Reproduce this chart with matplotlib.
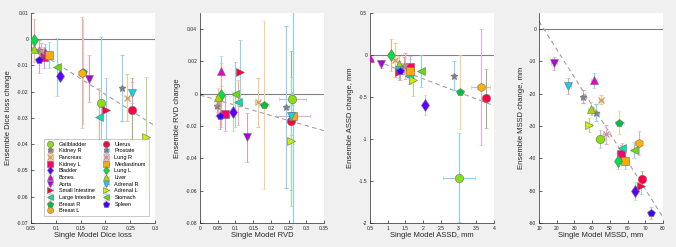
#Ensemble vs single model: change in metrics per organ

import matplotlib.pyplot as plt
import matplotlib.ticker as mticker

plt.rcParams['font.family'] = ['Liberation Sans', 'DejaVu Sans']
plt.rcParams['axes.unicode_minus'] = False

#organs, markers and colours
organs = ['Gallbladder', 'Kidney R', 'Pancreas', 'Kidney L', 'Bladder', 'Bones', 'Aorta',
          'Small Intestine', 'Large Intestine', 'Breast R', 'Breast L', 'Uterus', 'Prostate',
          'Lung R', 'Mediastinum', 'Lung L', 'Liver', 'Adrenal R', 'Adrenal L', 'Stomach', 'Spleen']
markers = ['o', '*', 'x', 's', 'd', '^', 'v', '>', '<', 'p', 'h',
           'o', '*', 'x', 's', 'd', '^', 'v', '>', '<', 'p']
face_colors = ['#88e010', '#808080', '#c8a070', '#ff0066', '#5a00ff', '#e600d0', '#b000e0',
               '#ff0040', '#00e0b0', '#00c040', '#ffb000', '#ff0040', '#808080',
               '#c89090', '#ffaa00', '#00e040', '#a0e000', '#00d8f0', '#c8f000', '#60e000', '#4000ff']
err_colors = ['#90cef0', '#d0a8a8', '#f5c890', '#d0a0d8', '#b8e0a0', '#90d0f0', '#d8a0b0',
              '#90d0f0', '#f0b090', '#f8d090', '#d8b0e0', '#a0b080', '#90d0f0',
              '#e8b0c0', '#90d0f0', '#f0b090', '#f0c0a0', '#d0a0d0', '#b0d890', '#90d0f0', '#e0a0b0']

#panel 1: Dice loss
dice_x = [0.191, 0.067, 0.244, 0.077, 0.108, 0.0786, 0.167, 0.202, 0.188, 0.154, 0.153,
          0.253, 0.2326, 0.070, 0.086, 0.0555, 0.0555, 0.253, 0.2816, 0.1025, 0.0657]
dice_y = [-0.0242, -0.0042, -0.0223, -0.0068, -0.0141, -0.0048, -0.0150, -0.0269, -0.0297, -0.0124, -0.0127,
          -0.0268, -0.0185, -0.0045, -0.0061, -0.0004, -0.0038, -0.0204, -0.0373, -0.0106, -0.0078]
dice_yerr = [0.025, 0.004, 0.009, 0.004, 0.0015, 0.003, 0.009, 0.012, 0.011, 0.020, 0.021,
             0.012, 0.0125, 0.003, 0.005, 0.008, 0.005, 0.004, 0.023, 0.011, 0.005]
dice_xerr = [0.004, 0.003, 0.003, 0.003, 0.002, 0.003, 0.003, 0.003, 0.003, 0.004, 0.004,
             0.003, 0.003, 0.003, 0.003, 0.002, 0.002, 0.003, 0.003, 0.002, 0.002]

#panel 2: RVD
rvd_x = [0.261, 0.047, 0.1627, 0.070, 0.0937, 0.0596, 0.134, 0.1116, 0.107, 0.180, 0.262,
         0.2555, 0.244, 0.052, 0.262, 0.0596, 0.050, 0.2555, 0.257, 0.0974, 0.057]
rvd_y = [-0.0031, -0.0075, -0.0054, -0.0123, -0.0110, 0.0141, -0.0270, 0.0135, -0.0052, -0.0069, -0.0135,
         -0.0166, -0.0081, -0.0060, -0.0135, -0.0008, -0.0017, -0.0135, -0.0295, -0.0004, -0.0135]
rvd_yerr = [0.004, 0.006, 0.015, 0.011, 0.012, 0.009, 0.015, 0.020, 0.014, 0.052, 0.100,
            0.043, 0.050, 0.005, 0.100, 0.020, 0.005, 0.012, 0.040, 0.020, 0.008]
rvd_xerr = [0.037, 0.004, 0.008, 0.004, 0.004, 0.003, 0.004, 0.004, 0.004, 0.014, 0.048,
            0.005, 0.006, 0.004, 0.006, 0.003, 0.003, 0.005, 0.005, 0.004, 0.003]

#panel 3: ASSD, mm
assd_x = [3.00, 1.46, 1.20, 1.64, 2.04, 0.50, 0.80, 1.33, 1.59, 3.05, 3.62,
          3.78, 2.86, 1.50, 1.64, 1.10, 1.32, 1.31, 1.70, 1.95, 1.35]
assd_y = [-1.46, -0.127, -0.06, -0.147, -0.594, -0.036, -0.107, -0.20, -0.25, -0.438, -0.378,
          -0.514, -0.247, -0.13, -0.195, 0.0, -0.107, -0.175, -0.30, -0.187, -0.195]
assd_yerr = [0.53, 0.10, 0.20, 0.14, 0.12, 0.02, 0.05, 0.10, 0.10, 0.44, 0.69,
             0.35, 0.17, 0.15, 0.15, 0.19, 0.10, 0.10, 0.19, 0.19, 0.10]
assd_xerr = [0.45, 0.05, 0.05, 0.05, 0.05, 0.03, 0.05, 0.05, 0.05, 0.10, 0.27,
             0.06, 0.05, 0.05, 0.05, 0.05, 0.05, 0.05, 0.05, 0.03, 0.05]

#panel 4: MSSD, mm
mssd_x = [44.7, 35.0, 44.9, 56.5, 64.3, 41.1, 18.5, 67.3, 57.1, 55.4, 66.2,
          68.1, 42.0, 48.0, 58.6, 54.8, 39.4, 26.5, 38.5, 63.5, 73.2]
mssd_y = [-33.9, -20.9, -21.8, -38.5, -50.0, -15.8, -10.6, -48.5, -36.7, -28.9, -35.2,
          -46.5, -25.8, -32.6, -40.9, -40.8, -24.6, -17.6, -29.7, -37.5, -56.9]
mssd_yerr = [2.8, 2.0, 1.5, 2.5, 2.8, 2.3, 2.0, 2.5, 1.5, 3.5, 3.6,
             2.5, 2.5, 3.0, 2.5, 2.5, 2.0, 2.5, 2.2, 2.5, 2.0]
mssd_xerr = [2.5, 1.5, 1.0, 1.5, 2.0, 1.5, 1.5, 2.0, 1.5, 2.5, 2.0,
             1.5, 2.0, 2.0, 2.0, 1.5, 1.5, 1.5, 1.5, 1.5, 1.0]

#trend lines: (slope, intercept)
fit_dice = (-0.12, 0.003)
fit_rvd = (-0.063, -0.0008)
fit_assd = (-0.16, 0.037)
fit_mssd = (-0.866, 11.06)

panels = [
    (dice_x, dice_y, dice_xerr, dice_yerr, fit_dice, (0.05, 0.3), (-0.07, 0.01),
     [0.05, 0.1, 0.15, 0.2, 0.25, 0.3], [-0.07, -0.06, -0.05, -0.04, -0.03, -0.02, -0.01, 0, 0.01],
     'Single Model Dice loss', 'Ensemble Dice loss change'),
    (rvd_x, rvd_y, rvd_xerr, rvd_yerr, fit_rvd, (0, 0.35), (-0.08, 0.05),
     [0, 0.05, 0.1, 0.15, 0.2, 0.25, 0.3, 0.35], [-0.08, -0.06, -0.04, -0.02, 0, 0.02, 0.04],
     'Single Model RVD', 'Ensemble RVD change'),
    (assd_x, assd_y, assd_xerr, assd_yerr, fit_assd, (0.5, 4), (-2, 0.5),
     [0.5, 1, 1.5, 2, 2.5, 3, 3.5, 4], [-2, -1.5, -1, -0.5, 0, 0.5],
     'Single Model ASSD, mm', 'Ensemble ASSD change, mm'),
    (mssd_x, mssd_y, mssd_xerr, mssd_yerr, fit_mssd, (10, 80), (-60, 5),
     [10, 20, 30, 40, 50, 60, 70, 80], [-60, -50, -40, -30, -20, -10, 0],
     'Single Model MSSD, mm', 'Ensemble MSSD change, mm'),
]

W, H = 676, 247
fig = plt.figure(figsize=(W / 100, H / 100), dpi=100, facecolor='#f0f0f0')
lefts = [31, 200, 370, 539]

for k, (xs, ys, xe, ye, fit, xlim, ylim, xt, yt, xl, yl) in enumerate(panels):
    ax = fig.add_axes([lefts[k] / W, 24 / H, 124 / W, 210 / H])
    ax.set_facecolor('white')

    #zero line and trend line
    ax.plot(xlim, [0, 0], color='#808080', lw=0.8, zorder=1)
    ax.plot(xlim, [fit[0] * xlim[0] + fit[1], fit[0] * xlim[1] + fit[1]],
            color='#a0a0a0', lw=0.8, ls=(0, (4, 3)), zorder=1)

    handles = []
    for i in range(len(organs)):
        h = ax.errorbar(xs[i], ys[i], yerr=ye[i], xerr=xe[i], fmt=markers[i],
                        color=err_colors[i], ecolor=err_colors[i], elinewidth=0.8,
                        capsize=1.5, capthick=0.6, markersize=6 if markers[i] not in 'x*' else 5,
                        markerfacecolor=face_colors[i],
                        markeredgecolor=face_colors[i] if markers[i] in 'x*' else '#707070',
                        markeredgewidth=0.9 if markers[i] in 'x*' else 0.4,
                        label=organs[i], zorder=3)
        handles.append(h)

    ax.set_xlim(xlim)
    ax.set_ylim(ylim)
    ax.set_xticks(xt)
    ax.set_yticks(yt)
    ax.xaxis.set_major_formatter(mticker.FormatStrFormatter('%g'))
    ax.yaxis.set_major_formatter(mticker.FormatStrFormatter('%g'))
    ax.tick_params(direction='in', length=2, width=0.5, labelsize=3.6, colors='#262626', pad=2)
    for s in ['top', 'right']:
        ax.spines[s].set_visible(False)
    for s in ['left', 'bottom']:
        ax.spines[s].set_color('#262626')
        ax.spines[s].set_linewidth(0.5)
    ax.set_xlabel(xl, fontsize=5.5, color='#262626', labelpad=1)
    ax.set_ylabel(yl, fontsize=5.5, color='#262626', labelpad=3)

    if k == 0:
        leg = ax.legend(handles=handles, ncol=2, loc='lower right', bbox_to_anchor=(0.97, 0.02),
                        fontsize=4.0, frameon=True, fancybox=False, edgecolor='#a0a0a0',
                        handlelength=1.5, handletextpad=0.7, columnspacing=1.3,
                        labelspacing=0.3, borderpad=0.5, markerscale=0.75)
        leg.get_frame().set_linewidth(0.5)

fig.savefig('out.png', dpi=100, facecolor=fig.get_facecolor())
